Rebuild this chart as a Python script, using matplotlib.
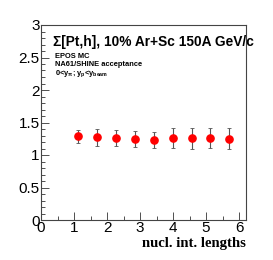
import matplotlib
matplotlib.use("Agg")
import matplotlib.pyplot as plt
from matplotlib.ticker import MultipleLocator

plt.rcParams['mathtext.fontset'] = 'custom'
plt.rcParams['mathtext.rm'] = 'Liberation Sans:bold'
plt.rcParams['mathtext.it'] = 'Liberation Sans:bold'
plt.rcParams['mathtext.bf'] = 'Liberation Sans:bold'

x = [1.13, 1.71, 2.27, 2.85, 3.42, 4.0, 4.56, 5.13, 5.70]
y = [1.288, 1.272, 1.262, 1.246, 1.231, 1.262, 1.257, 1.262, 1.251]
yerr = [0.10, 0.13, 0.12, 0.13, 0.13, 0.15, 0.16, 0.15, 0.16]

xticks = [0, 1, 2, 3, 4, 5, 6]
yticks = [0, 0.5, 1, 1.5, 2, 2.5, 3]
yticklabels = ["0", "0.5", "1", "1.5", "2", "2.5", "3"]

W, H = 273, 260
fig = plt.figure(figsize=(W/100, H/100), dpi=100)
ax = fig.add_axes([41/W, 1-220/H, 205/W, 195/H])

ax.errorbar(x, y, yerr=yerr, fmt='o', color='red', markersize=5.2,
            ecolor='#555555', elinewidth=0.8, capsize=1.2, capthick=0.6, zorder=3)

ax.set_xlim(0, 6.21)
ax.set_ylim(0, 3)
ax.set_xticks(xticks)
ax.set_xticklabels([str(t) for t in xticks])
ax.set_yticks(yticks)
ax.set_yticklabels(yticklabels)
ax.xaxis.set_minor_locator(MultipleLocator(0.5))
ax.yaxis.set_minor_locator(MultipleLocator(0.1))
ax.tick_params(which='both', direction='in', top=False, right=False,
               labelsize=11, color='#333333', width=0.6)
ax.tick_params(which='major', length=6, pad=1)
ax.tick_params(which='minor', length=3)
for lab in ax.get_xticklabels() + ax.get_yticklabels():
    lab.set_fontfamily('Liberation Sans')
for s in ax.spines.values():
    s.set_linewidth(0.8)
    s.set_color('#444444')

def fx(px):
    return (px - 41) / 205

def fy(py):
    return 1 - (py - 25) / 195

ax.text(fx(53), fy(42), "Σ[Pt,h], 10% Ar+Sc 150A GeV/c", transform=ax.transAxes,
        fontsize=9.9, fontweight='bold', family='Liberation Sans', va='center', ha='left',
        clip_on=False)
ax.text(fx(55), fy(56.7), "EPOS MC", transform=ax.transAxes,
        fontsize=5.4, fontweight='bold', family='Liberation Sans', va='center', ha='left')
ax.text(fx(55), fy(65), "NA61/SHINE acceptance", transform=ax.transAxes,
        fontsize=5.4, fontweight='bold', family='Liberation Sans', va='center', ha='left')
ax.text(fx(55), fy(74), r"0<y$_{\pi}$; y$_{p}$<y$_{beam}$", transform=ax.transAxes,
        fontsize=5.4, fontweight='bold', family='Liberation Sans', va='center', ha='left')

fig.text(246/W, 1-243/H, "nucl. int. lengths", fontsize=10.6, fontweight='bold',
         family='Liberation Serif', ha='right', va='center')

fig.savefig("out.png", dpi=100)
